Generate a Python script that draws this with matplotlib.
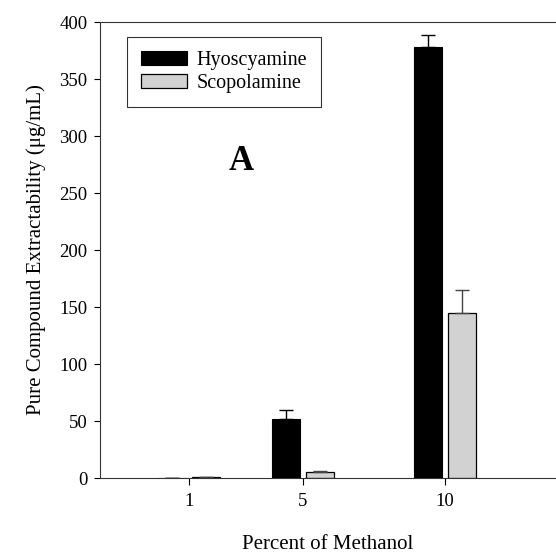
import numpy as np
import matplotlib
matplotlib.use("Agg")
import matplotlib.pyplot as plt

plt.rcParams["font.family"] = ["Liberation Serif", "DejaVu Serif"]

methanol = [1, 5, 10]
hyoscyamine = [0.3, 52, 378]
hyoscyamine_err = [0.0, 8, 11]
scopolamine = [1.0, 5.5, 145]
scopolamine_err = [0.0, 0.8, 20]

x = np.array(methanol, dtype=float)
width = 0.97
offset = 0.6

fig = plt.figure(figsize=(5.56, 5.53), dpi=100)
ax = fig.add_axes([0.18, 0.1356, 0.82, 0.8246])

ax.bar(x - offset, hyoscyamine, width, color="black", edgecolor="black",
       linewidth=0.8, label="Hyoscyamine",
       yerr=[np.zeros(3), hyoscyamine_err], capsize=4.7,
       error_kw=dict(ecolor="black", elinewidth=1.0, capthick=1.0))
ax.bar(x + offset, scopolamine, width, color="#d2d2d2", edgecolor="black",
       linewidth=0.9, label="Scopolamine",
       yerr=[np.zeros(3), scopolamine_err], capsize=4.7,
       error_kw=dict(ecolor="#444444", elinewidth=1.0, capthick=1.0))

ax.set_xlim(-2.13, 13.9)
ax.set_ylim(0, 400)
ax.set_yticks(np.arange(0, 401, 50))
ax.set_xticks(methanol)
ax.set_xticklabels([str(m) for m in methanol])
ax.tick_params(direction="out", length=4, width=0.8, labelsize=13.5, pad=5)
ax.tick_params(axis="x", length=5, pad=6)
ax.spines["right"].set_visible(False)
for s in ["left", "top", "bottom"]:
    ax.spines[s].set_linewidth(0.8)
    ax.spines[s].set_color("#333333")

ax.set_xlabel("Percent of Methanol", fontsize=15, labelpad=18)
ax.set_ylabel("Pure Compound Extractability (\u03bcg/mL)", fontsize=15, labelpad=10)

ax.text(2.83, 270, "A", fontsize=25, fontweight="bold", ha="center", va="baseline")

leg = ax.legend(loc="upper left", bbox_to_anchor=(0.059, 0.967), fontsize=14.5,
                frameon=True, fancybox=False, edgecolor="black",
                handlelength=2.3, handleheight=0.65, handletextpad=0.45,
                borderpad=0.7, labelspacing=0.2, borderaxespad=0)
leg.get_frame().set_linewidth(0.8)

fig.savefig("out.png", dpi=100)
